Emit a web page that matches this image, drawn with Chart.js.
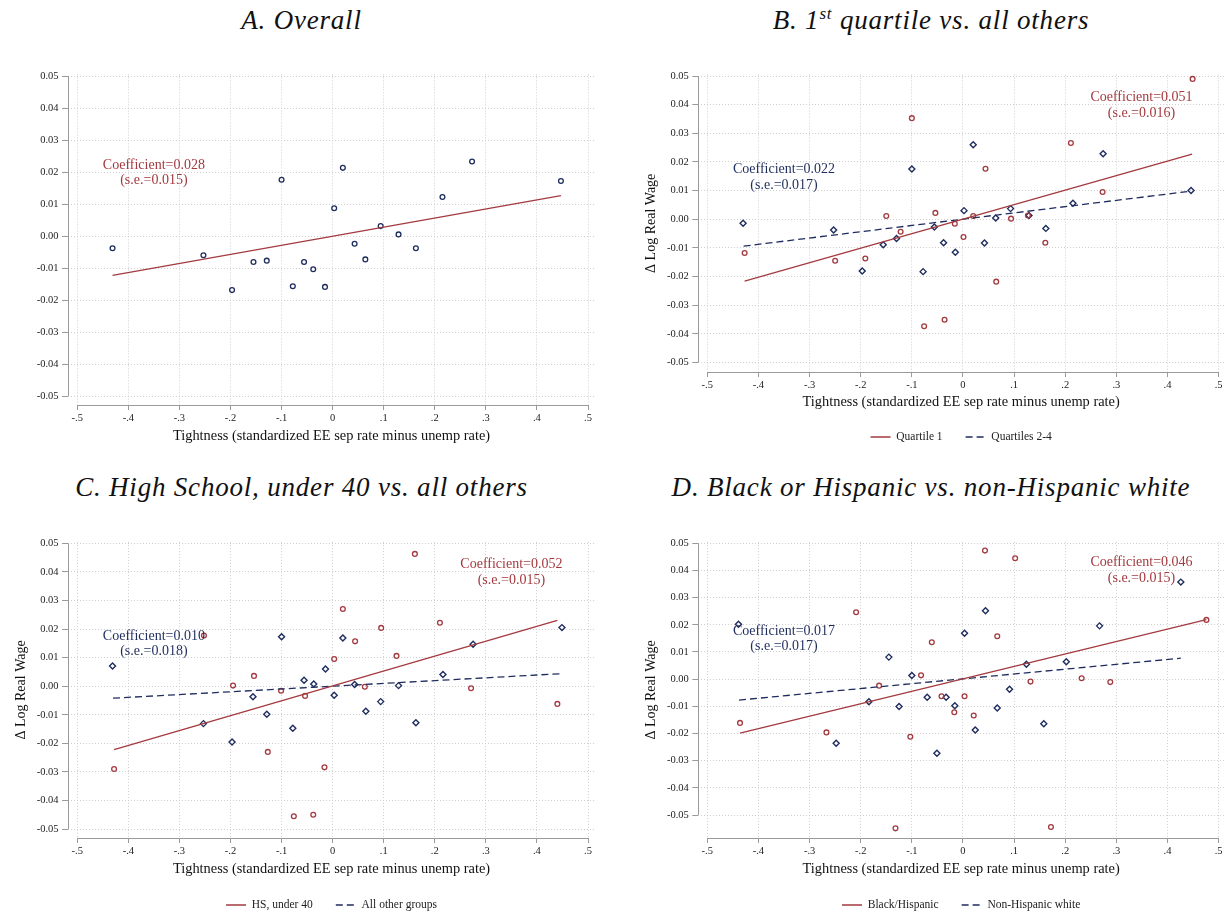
<!DOCTYPE html>
<html>
<head>
<meta charset="utf-8">
<script src="https://cdn.jsdelivr.net/npm/chart.js@4.4.1/dist/chart.umd.min.js"></script>
<style>
  html, body { margin: 0; padding: 0; background: #fff; overflow: hidden; width: 1225px; height: 913px; }
  canvas { position: absolute; }
  .ttl { position: absolute; font-family: 'Liberation Serif', 'Times New Roman', serif; font-style: italic;
         font-size: 27px; letter-spacing: 0.8px; color: #111; text-align: center; line-height: 32px; white-space: nowrap; }
  .ttl sup { font-size: 17px; line-height: 0; vertical-align: 10px; }
</style>
</head>
<body>
<div class="ttl" style="left:1.5px;top:4px;width:600px">A. Overall</div>
<div class="ttl" style="left:631px;top:4px;width:600px">B. 1<sup>st</sup> quartile vs. all others</div>
<div class="ttl" style="left:1.5px;top:471px;width:600px">C. High School, under 40 vs. all others</div>
<div class="ttl" style="left:631px;top:471px;width:600px">D. Black or Hispanic vs. non-Hispanic white</div>

<canvas id="cA" width="612" height="400" style="left:0;top:60px"></canvas>
<canvas id="cB" width="623" height="400" style="left:612px;top:60px"></canvas>
<canvas id="cC" width="612" height="465" style="left:0;top:460px"></canvas>
<canvas id="cD" width="623" height="465" style="left:612px;top:460px"></canvas>

<script>
// axes
const xTickVals = [-0.5, -0.4, -0.3, -0.2, -0.1, 0, 0.1, 0.2, 0.3, 0.4, 0.5];
const xTickLabels = ['-.5', '-.4', '-.3', '-.2', '-.1', '0', '.1', '.2', '.3', '.4', '.5'];
const yTickVals = [-0.05, -0.04, -0.03, -0.02, -0.01, 0, 0.01, 0.02, 0.03, 0.04, 0.05];
const yTickLabels = ['-0.05', '-0.04', '-0.03', '-0.02', '-0.01', '0.00', '0.01', '0.02', '0.03', '0.04', '0.05'];
const xTitle = 'Tightness (standardized EE sep rate minus unemp rate)';
const yTitle = 'Δ Log Real Wage';

// A. Overall
const overallX = [-0.431, -0.253, -0.197, -0.155, -0.129, -0.100, -0.078, -0.056, -0.038, -0.015,
                  0.003, 0.020, 0.043, 0.064, 0.094, 0.129, 0.163, 0.215, 0.273, 0.447];
const overallY = [-0.0038, -0.0060, -0.0169, -0.0081, -0.0077, 0.0176, -0.0157, -0.0081, -0.0104, -0.0159,
                  0.0087, 0.0213, -0.0024, -0.0073, 0.0031, 0.0005, -0.0038, 0.0122, 0.0233, 0.0172];
const overallFitX = [-0.431, 0.447];
const overallFitY = [-0.0123, 0.0126];

// B. 1st quartile vs. all others
const q1X = [-0.427, -0.250, -0.191, -0.150, -0.122, -0.100, -0.076, -0.054, -0.036, -0.016,
             0.001, 0.020, 0.044, 0.065, 0.094, 0.127, 0.161, 0.211, 0.273, 0.449];
const q1Y = [-0.0118, -0.0145, -0.0137, 0.0011, -0.0044, 0.0353, -0.0374, 0.0022, -0.0351, -0.0016,
             -0.0062, 0.0011, 0.0176, -0.0218, 0.0002, 0.0013, -0.0082, 0.0266, 0.0095, 0.0490];
const q24X = [-0.430, -0.253, -0.197, -0.156, -0.130, -0.100, -0.078, -0.056, -0.038, -0.015,
              0.002, 0.020, 0.042, 0.064, 0.093, 0.129, 0.162, 0.215, 0.274, 0.446];
const q24Y = [-0.0014, -0.0038, -0.0181, -0.0089, -0.0067, 0.0175, -0.0183, -0.0027, -0.0082, -0.0115,
              0.0030, 0.0260, -0.0083, 0.0004, 0.0037, 0.0013, -0.0032, 0.0056, 0.0229, 0.0100];
const q1FitX = [-0.427, 0.448], q1FitY = [-0.0216, 0.0227];
const q24FitX = [-0.429, 0.446], q24FitY = [-0.0094, 0.0098];

// C. High School, under 40 vs. all others
const hsX = [-0.428, -0.252, -0.195, -0.154, -0.127, -0.101, -0.076, -0.054, -0.038, -0.016,
             0.003, 0.020, 0.044, 0.063, 0.095, 0.125, 0.161, 0.210, 0.271, 0.440];
const hsY = [-0.0290, 0.0177, 0.0002, 0.0036, -0.0230, -0.0016, -0.0455, -0.0034, -0.0450, -0.0284,
             0.0095, 0.0270, 0.0157, -0.0002, 0.0204, 0.0106, 0.0463, 0.0222, -0.0007, -0.0062];
const otherX = [-0.431, -0.253, -0.197, -0.156, -0.129, -0.100, -0.078, -0.056, -0.037, -0.014,
                0.003, 0.020, 0.043, 0.065, 0.094, 0.129, 0.163, 0.216, 0.275, 0.449];
const otherY = [0.0071, -0.0131, -0.0195, -0.0037, -0.0098, 0.0173, -0.0147, 0.0021, 0.0008, 0.0060,
                -0.0032, 0.0169, 0.0006, -0.0088, -0.0054, 0.0002, -0.0128, 0.0041, 0.0147, 0.0205];
const hsFitX = [-0.428, 0.440], hsFitY = [-0.0222, 0.0230];
const otherFitX = [-0.430, 0.450], otherFitY = [-0.0042, 0.0044];

// D. Black or Hispanic vs. non-Hispanic white
const bhX = [-0.436, -0.267, -0.209, -0.164, -0.132, -0.103, -0.082, -0.061, -0.042, -0.017,
             0.003, 0.021, 0.043, 0.067, 0.102, 0.132, 0.172, 0.232, 0.288, 0.476];
const bhY = [-0.0161, -0.0196, 0.0246, -0.0024, -0.0549, -0.0212, 0.0014, 0.0136, -0.0063, -0.0122,
             -0.0063, -0.0134, 0.0473, 0.0158, 0.0445, -0.0009, -0.0544, 0.0003, -0.0011, 0.0218];
const whX = [-0.439, -0.248, -0.184, -0.145, -0.125, -0.100, -0.070, -0.051, -0.033, -0.016,
             0.003, 0.024, 0.044, 0.067, 0.091, 0.124, 0.158, 0.202, 0.267, 0.426];
const whY = [0.0202, -0.0236, -0.0083, 0.0081, -0.0101, 0.0013, -0.0067, -0.0273, -0.0067, -0.0098,
             0.0169, -0.0187, 0.0252, -0.0106, -0.0037, 0.0055, -0.0164, 0.0064, 0.0196, 0.0357];
const bhFitX = [-0.436, 0.476], bhFitY = [-0.0199, 0.0219];
const whFitX = [-0.438, 0.426], whFitY = [-0.0077, 0.0077];

const RED = '#a33a3f';
const NAVY = '#1f2d5e';

Chart.defaults.font.family = "'Liberation Serif', 'Times New Roman', serif";
Chart.defaults.color = '#222';

function pts(xs, ys) {
    return xs.map((v, i) => ({ x: v, y: ys[i] }));
}

function markers(xs, ys, color, style) {
    const diamond = style === 'rectRot';
    return {
        data: pts(xs, ys),
        showLine: false,
        pointStyle: style,
        pointRadius: diamond ? 3 : 2.4,
        pointHoverRadius: diamond ? 3 : 2.4,
        pointBorderWidth: diamond ? 1.4 : 1.3,
        borderColor: color,
        backgroundColor: 'rgba(0,0,0,0)'
    };
}

function fitLine(label, xs, ys, color, dashed) {
    return {
        label: label,
        data: pts(xs, ys),
        showLine: true,
        pointRadius: 0,
        borderColor: color,
        backgroundColor: color,
        borderWidth: 1.3,
        borderDash: dashed ? [7, 4] : []
    };
}

// axis lines only over the tick range + coefficient text
function overlay(notes) {
    return {
        id: 'overlay',
        afterDraw(chart) {
            const { ctx, chartArea, scales: { x, y } } = chart;
            const al = v => Math.round(v - 0.5) + 0.5;
            ctx.save();
            ctx.strokeStyle = '#9a9a9a';
            ctx.lineWidth = 1;
            ctx.beginPath();
            ctx.moveTo(al(chartArea.left), y.getPixelForValue(yTickVals[yTickVals.length - 1]));
            ctx.lineTo(al(chartArea.left), y.getPixelForValue(yTickVals[0]));
            ctx.moveTo(x.getPixelForValue(xTickVals[0]), al(chartArea.bottom));
            ctx.lineTo(x.getPixelForValue(xTickVals[xTickVals.length - 1]), al(chartArea.bottom));
            ctx.stroke();

            ctx.font = "14px 'Liberation Serif', 'Times New Roman', serif";
            ctx.textAlign = 'center';
            ctx.textBaseline = 'middle';
            notes.forEach(n => {
                ctx.fillStyle = n.color;
                const px = x.getPixelForValue(n.x);
                const py = y.getPixelForValue(n.y);
                n.lines.forEach((t, k) => {
                    ctx.fillText(t, px, py + (k - (n.lines.length - 1) / 2) * 15.5);
                });
            });
            ctx.restore();
        }
    };
}

function makePanel(p) {
    const ctx = document.getElementById(p.id).getContext('2d');
    return new Chart(ctx, {
        type: 'scatter',
        data: { datasets: p.datasets },
        options: {
            responsive: false,
            animation: false,
            devicePixelRatio: 1,
            layout: { padding: p.pad },
            plugins: {
                tooltip: { enabled: false },
                legend: {
                    display: p.legend,
                    position: 'bottom',
                    fullSize: false,
                    labels: {
                        usePointStyle: true,
                        pointStyle: 'line',
                        pointStyleWidth: 20,
                        padding: 23,
                        color: '#222',
                        font: { size: 11.5 },
                        filter: item => !!item.text,
                        generateLabels: chart => chart.data.datasets.map((d, i) => ({
                            text: d.label || '',
                            fillStyle: d.borderColor,
                            strokeStyle: d.borderColor,
                            lineWidth: d.borderWidth,
                            lineDash: d.borderDash,
                            pointStyle: 'line',
                            hidden: false,
                            fontColor: '#222',
                            datasetIndex: i
                        }))
                    }
                }
            },
            scales: {
                x: {
                    type: 'linear',
                    position: 'bottom',
                    bounds: 'data',
                    min: p.xMin,
                    max: p.xMax,
                    afterBuildTicks: s => { s.ticks = xTickVals.map(v => ({ value: v })); },
                    afterFit: s => { s.height = p.xH; },
                    ticks: {
                        autoSkip: false,
                        maxRotation: 0,
                        padding: p.xTickPad,
                        font: { size: 10.5 },
                        color: '#222',
                        callback: (v, i) => xTickLabels[i]
                    },
                    grid: {
                        color: '#cfcfcf',
                        lineWidth: 1,
                        drawTicks: true,
                        tickLength: 5,
                        tickColor: '#9a9a9a',
                        tickBorderDash: []
                    },
                    border: { display: false, dash: [1, 2] },
                    title: {
                        display: true,
                        text: xTitle,
                        color: '#111',
                        font: { size: 14.4 },
                        padding: { top: 0, bottom: p.xTitlePad }
                    }
                },
                y: {
                    type: 'linear',
                    position: 'left',
                    bounds: 'data',
                    min: p.yMin,
                    max: p.yMax,
                    afterBuildTicks: s => { s.ticks = yTickVals.map(v => ({ value: v })); },
                    afterFit: s => { s.width = 60; },
                    ticks: {
                        autoSkip: false,
                        padding: 3.5,
                        font: { size: 10.5 },
                        color: '#222',
                        callback: (v, i) => yTickLabels[i]
                    },
                    grid: {
                        color: '#cfcfcf',
                        lineWidth: 1,
                        drawTicks: true,
                        tickLength: 6,
                        tickColor: '#9a9a9a',
                        tickBorderDash: []
                    },
                    border: { display: false, dash: [1, 2] },
                    title: {
                        display: p.yTitle,
                        text: yTitle,
                        color: '#111',
                        font: { size: 14 },
                        padding: { top: 4.6, bottom: 0 }
                    }
                }
            }
        },
        plugins: [overlay(p.notes)]
    });
}

makePanel({
    id: 'cA',
    pad: { left: 8, right: 17, top: 14.4, bottom: 5.5 },
    xMin: -0.5182, xMax: 0.5137, yMin: -0.0528, yMax: 0.0505,
    xH: 49.5, xTickPad: 1.7, xTitlePad: 9.4,
    yTitle: false, legend: false,
    notes: [{ x: -0.35, y: 0.0197, color: RED, lines: ['Coefficient=0.028', '(s.e.=0.015)'] }],
    datasets: [
        fitLine('', overallFitX, overallFitY, RED, false),
        markers(overallX, overallY, NAVY, 'circle')
    ]
});

makePanel({
    id: 'cB',
    pad: { left: 26.3, right: 11, top: 14.6, bottom: 7.25 },
    xMin: -0.5176, xMax: 0.5104, yMin: -0.05335, yMax: 0.0505,
    xH: 36.25, xTickPad: 1.7, xTitlePad: -2.85,
    yTitle: true, legend: true,
    notes: [
        { x: -0.35, y: 0.0147, color: NAVY, lines: ['Coefficient=0.022', '(s.e.=0.017)'] },
        { x: 0.349, y: 0.0397, color: RED, lines: ['Coefficient=0.051', '(s.e.=0.016)'] }
    ],
    datasets: [
        fitLine('Quartile 1', q1FitX, q1FitY, RED, false),
        fitLine('Quartiles 2-4', q24FitX, q24FitY, NAVY, true),
        markers(q1X, q1Y, RED, 'circle'),
        markers(q24X, q24Y, NAVY, 'rectRot')
    ]
});

makePanel({
    id: 'cC',
    pad: { left: 8, right: 17, top: 81.9, bottom: 4.25 },
    xMin: -0.5182, xMax: 0.5137, yMin: -0.05313, yMax: 0.0505,
    xH: 38.25, xTickPad: 2.2, xTitlePad: -1.35,
    yTitle: true, legend: true,
    notes: [
        { x: -0.35, y: 0.0149, color: NAVY, lines: ['Coefficient=0.010', '(s.e.=0.018)'] },
        { x: 0.35, y: 0.0398, color: RED, lines: ['Coefficient=0.052', '(s.e.=0.015)'] }
    ],
    datasets: [
        fitLine('HS, under 40', hsFitX, hsFitY, RED, false),
        fitLine('All other groups', otherFitX, otherFitY, NAVY, true),
        markers(hsX, hsY, RED, 'circle'),
        markers(otherX, otherY, NAVY, 'rectRot')
    ]
});

makePanel({
    id: 'cD',
    pad: { left: 26.3, right: 11, top: 81.9, bottom: 4.25 },
    xMin: -0.5176, xMax: 0.5104, yMin: -0.05846, yMax: 0.0505,
    xH: 38.25, xTickPad: 2.2, xTitlePad: -1.35,
    yTitle: true, legend: true,
    notes: [
        { x: -0.35, y: 0.0148, color: NAVY, lines: ['Coefficient=0.017', '(s.e.=0.017)'] },
        { x: 0.349, y: 0.040, color: RED, lines: ['Coefficient=0.046', '(s.e.=0.015)'] }
    ],
    datasets: [
        fitLine('Black/Hispanic', bhFitX, bhFitY, RED, false),
        fitLine('Non-Hispanic white', whFitX, whFitY, NAVY, true),
        markers(bhX, bhY, RED, 'circle'),
        markers(whX, whY, NAVY, 'rectRot')
    ]
});
</script>
</body>
</html>
